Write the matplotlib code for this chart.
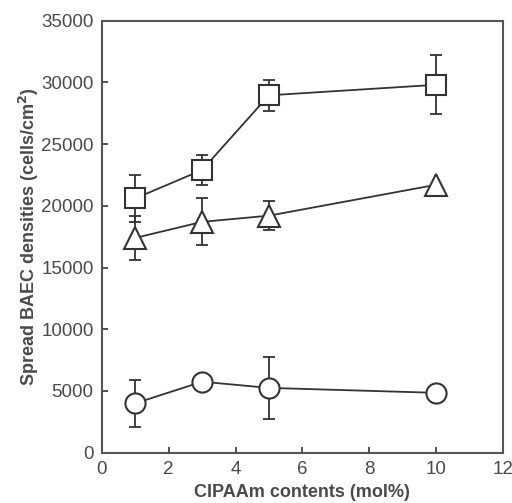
import matplotlib.pyplot as plt

plt.rcParams['font.family'] = ['Liberation Sans', 'DejaVu Sans']

# CIPAAm content (mol%)
x = [1, 3, 5, 10]

# spread BAEC densities (cells/cm2) and error bars
sq_y = [20600, 22900, 28950, 29800]
sq_err = [1900, 1200, 1250, 2400]

tri_y = [17400, 18700, 19200, 21700]
tri_err = [1800, 1900, 1200, 0]

circ_y = [4000, 5750, 5250, 4850]
circ_err = [1900, 0, 2500, 0]

dark = '#333333'
txt = '#4a4a4a'

fig = plt.figure(figsize=(5.12, 5.03), dpi=100)
ax = fig.add_axes([0.199, 0.100, 0.783, 0.859])

for y, err, mk, ms in [(sq_y, sq_err, 's', 14.5),
                       (tri_y, tri_err, '^', 16),
                       (circ_y, circ_err, 'o', 14.5)]:
    ax.errorbar(x, y, yerr=err, fmt='none', ecolor=dark, elinewidth=1.3,
                capsize=4, capthick=1.3, zorder=2)
    ax.plot(x, y, color=dark, linewidth=1.3, marker=mk, markersize=ms,
            markerfacecolor='white', markeredgecolor=dark,
            markeredgewidth=1.5, zorder=3)

ax.set_xlim(0, 12)
ax.set_ylim(0, 35000)
ax.set_xticks(range(0, 13, 2))
ax.set_yticks(range(0, 35001, 5000))

ax.tick_params(direction='in', length=4, width=1.2, colors=dark,
               labelsize=13.5, labelcolor=txt, pad=6)
for s in ax.spines.values():
    s.set_color('#555555')
    s.set_linewidth(1.5)

ax.set_xlabel('CIPAAm contents (mol%)', fontsize=13, fontweight='bold',
              color=txt, labelpad=4)
ax.set_ylabel('Spread BAEC densities (cells/cm$^\\mathbf{2}$)', fontsize=13,
              fontweight='bold', color=txt, labelpad=0)

plt.savefig('out.png', dpi=100)
